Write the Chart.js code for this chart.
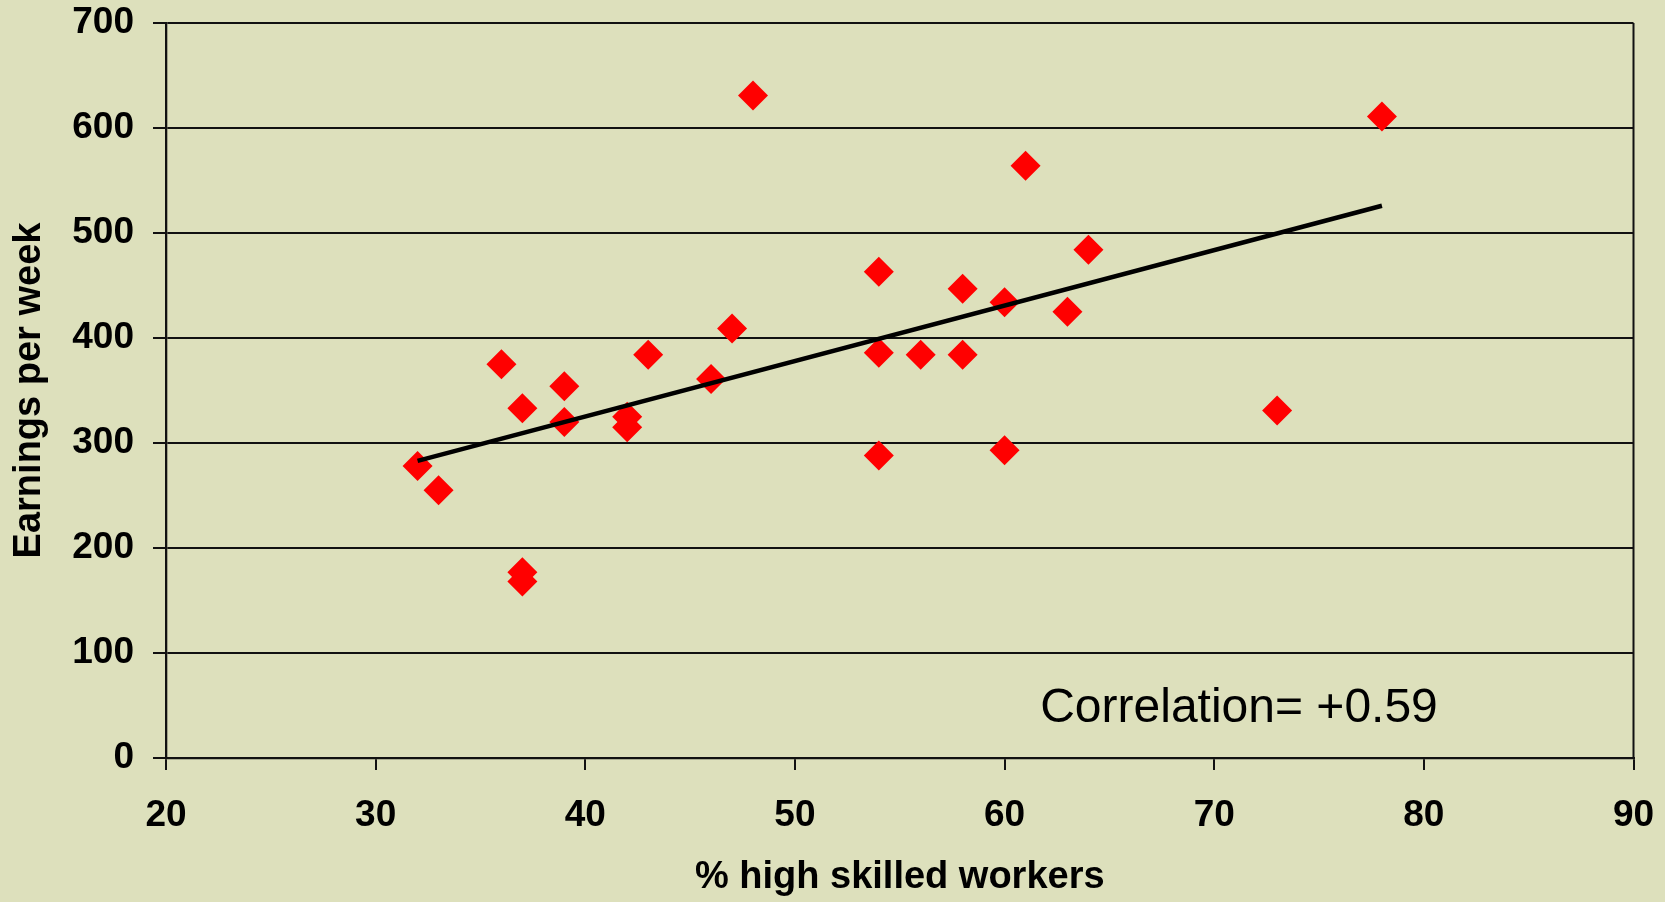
<!DOCTYPE html>
<html>
<head>
<meta charset="utf-8">
<script src="https://cdn.jsdelivr.net/npm/chart.js@4.4.1/dist/chart.umd.min.js"></script>
<style>
  html, body { margin: 0; padding: 0; background: #DDE0BC; }
  #wrap { width: 1665px; height: 902px; }
</style>
</head>
<body>
<div id="wrap"><canvas id="c" width="1665" height="902"></canvas></div>
<script>
// ---- data ----
const skilledPct = [32, 33, 36, 37, 37, 37, 39, 39, 42, 42, 43, 46, 47, 48, 54, 54, 54, 56, 58, 58, 60, 60, 61, 63, 64, 73, 78];
const earnings   = [278, 255, 375, 333, 177, 168, 354, 320, 325, 315, 384, 361, 409, 631, 463, 386, 288, 384, 447, 384, 434, 293, 564, 425, 484, 331, 611];
const trendX = [32, 78];
const trendY = [283, 526];
const xTickValues = [20, 30, 40, 50, 60, 70, 80, 90];
const yTickValues = [0, 100, 200, 300, 400, 500, 600, 700];
const xTitle = '% high skilled workers';
const yTitle = 'Earnings per week';
const corrLabel = 'Correlation= +0.59';

const BG = '#DDE0BC';
const INK = '#111111';
const FONT = "'Liberation Sans', Arial, sans-serif";

const points = skilledPct.map((x, i) => ({ x: x, y: earnings[i] }));
const trend = trendX.map((x, i) => ({ x: x, y: trendY[i] }));

const decor = {
  id: 'decor',
  beforeDraw(chart) {
    const ctx = chart.ctx;
    ctx.save();
    ctx.fillStyle = BG;
    ctx.fillRect(0, 0, chart.width, chart.height);
    ctx.restore();
  },
  afterDraw(chart) {
    const ctx = chart.ctx;
    const a = chart.chartArea;
    ctx.save();
    // right frame line
    ctx.strokeStyle = INK;
    ctx.lineWidth = 2;
    ctx.beginPath();
    ctx.moveTo(a.right, a.top);
    ctx.lineTo(a.right, a.bottom);
    ctx.stroke();
    // correlation annotation
    const xs = chart.scales.x, ys = chart.scales.y;
    ctx.fillStyle = '#000';
    ctx.font = '48px ' + FONT;
    ctx.textAlign = 'left';
    ctx.textBaseline = 'alphabetic';
    ctx.fillText(corrLabel, xs.getPixelForValue(61.7), ys.getPixelForValue(34.6));
    ctx.restore();
  }
};

new Chart(document.getElementById('c'), {
  type: 'scatter',
  data: {
    datasets: [
      {
        type: 'line',
        label: 'Trend',
        data: trend,
        borderColor: '#000',
        borderWidth: 4.5,
        pointRadius: 0,
        fill: false,
        order: 0
      },
      {
        label: 'Cities',
        data: points,
        pointStyle: 'rectRot',
        pointRadius: 15,
        pointHoverRadius: 15,
        backgroundColor: '#FF0000',
        borderColor: '#FF0000',
        borderWidth: 0,
        order: 1
      }
    ]
  },
  options: {
    responsive: false,
    animation: false,
    devicePixelRatio: 1,
    layout: { padding: { top: 23, right: 31.5, bottom: 0, left: 0 } },
    plugins: { legend: { display: false }, tooltip: { enabled: false } },
    scales: {
      x: {
        type: 'linear',
        min: 20, max: 90,
        afterBuildTicks: (s) => { s.ticks = xTickValues.map(v => ({ value: v })); },
        afterFit: (s) => { s.height = 144; s.paddingLeft = 0; s.paddingRight = 0; },
        grid: { drawOnChartArea: false, drawTicks: true, tickLength: 12, color: INK, lineWidth: 2 },
        border: { display: true, color: INK, width: 2.3 },
        ticks: { color: '#000', font: { family: FONT, size: 37, weight: 'bold' }, padding: 24, maxRotation: 0 },
        title: { display: true, text: xTitle, color: '#000', font: { family: FONT, size: 38, weight: 'bold' }, padding: { top: 0, bottom: 2 } }
      },
      y: {
        type: 'linear',
        min: 0, max: 700,
        afterBuildTicks: (s) => { s.ticks = yTickValues.map(v => ({ value: v })); },
        afterFit: (s) => { s.width = 166; s.paddingTop = 0; s.paddingBottom = 0; },
        grid: { drawOnChartArea: true, drawTicks: true, tickLength: 13, color: INK, lineWidth: 2 },
        border: { display: true, color: INK, width: 2.3 },
        ticks: { color: '#000', font: { family: FONT, size: 37, weight: 'bold' }, padding: 19 },
        title: { display: true, text: yTitle, color: '#000', font: { family: FONT, size: 38, weight: 'bold' }, padding: { top: 7, bottom: 0 } }
      }
    }
  },
  plugins: [decor]
});
</script>
</body>
</html>
